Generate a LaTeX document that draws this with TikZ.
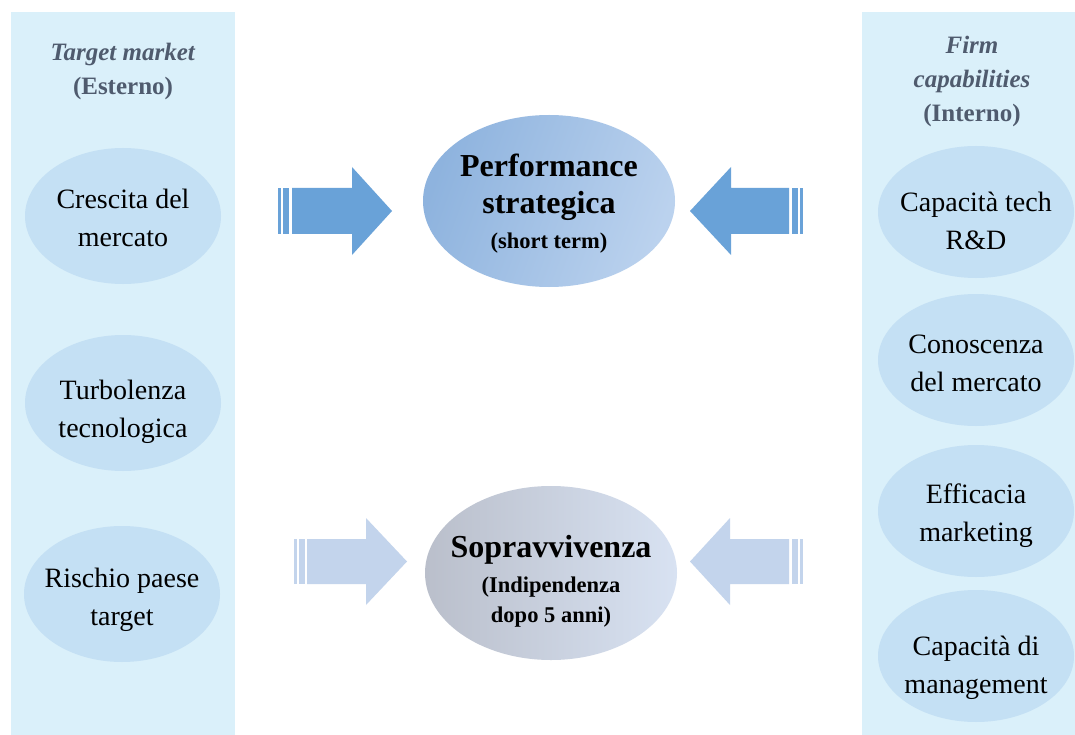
\documentclass[tikz,border=0pt]{standalone}
\usepackage{fontspec}
\setmainfont{Liberation Serif}
\usetikzlibrary{shapes.geometric}
\definecolor{panelc}{HTML}{DAF0FA}
\definecolor{ellc}{HTML}{C4E0F4}
\definecolor{arrA}{HTML}{69A2D8}
\definecolor{arrB}{HTML}{C3D4EC}
\definecolor{titc}{HTML}{4F5B6E}
\definecolor{perfL}{HTML}{8EB3DE}
\definecolor{perfR}{HTML}{BBD2EE}
\definecolor{survL}{HTML}{BABFCB}
\definecolor{survM}{HTML}{B6C4DB}
\definecolor{survR}{HTML}{D8E2F2}
% zero-size centred block so the text never changes the ellipse size
\newcommand\ctext[2][0pt]{\raisebox{#1}[0pt][0pt]{\makebox[0pt]{\begin{tabular}{@{}c@{}}#2\end{tabular}}}}
\begin{document}
\begin{tikzpicture}[x=1pt,y=-1pt,
  side/.style={ellipse, fill=ellc, minimum width=196pt, minimum height=136pt,
    inner sep=0pt, font=\fontsize{28}{38}\selectfont},
  sider/.style={side, minimum height=132pt},
  titlebox/.style={align=center, text=titc, font=\bfseries\fontsize{25}{34}\selectfont},
  bigell/.style={ellipse, minimum width=252pt, inner sep=0pt},
  arrowA/.style={fill=arrA},
  arrowB/.style={fill=arrB},
]
\useasboundingbox (0,0) rectangle (1075,735);
\fill[white] (0,0) rectangle (1075,735);
% panels
\fill[panelc] (11,12) rectangle (235,735);
\fill[panelc] (862,12) rectangle (1075,735);

% titles
\node[titlebox] (tl) at (123,71) {\textit{Target market}\\(Esterno)};
\node[titlebox] (tr) at (972,81) {\textit{Firm}\\\textit{capabilities}\\(Interno)};

% left ellipses
\node[side] (l1) at (123,216) {\ctext[-10pt]{Crescita del\\mercato}};
\node[side] (l2) at (123,403) {\ctext[-14pt]{Turbolenza\\tecnologica}};
\node[side] (l3) at (122,594) {\ctext[-11pt]{Rischio paese\\target}};

% right ellipses
\node[sider] (r1) at (976,212) {\ctext[-17pt]{Capacità tech\\R\&D}};
\node[sider] (r2) at (976,360) {\ctext[-11pt]{Conoscenza\\del mercato}};
\node[sider] (r3) at (976,511) {\ctext[-10pt]{Efficacia\\marketing}};
\node[sider] (r4) at (976,656) {\ctext[-17pt]{Capacità di\\management}};

% central ellipses
\node[bigell, minimum height=172pt, left color=perfL, right color=perfR, shading angle=70,
      font=\bfseries\fontsize{32}{37}\selectfont] (perf) at (549,201)
  {\ctext[-10pt]{Performance\\strategica\\[-2pt]\fontsize{22.5}{27}\selectfont (short term)}};
\node[bigell, minimum height=174pt, left color=survL, middle color=survM, right color=survR,
      font=\bfseries\fontsize{22.5}{30}\selectfont] (surv) at (551,573)
  {\ctext[-16pt]{\fontsize{32}{36}\selectfont Sopravvivenza\\[5pt](Indipendenza\\dopo 5 anni)}};

% top arrows
\fill[arrowA] (278,188) rectangle (281,234);
\fill[arrowA] (283,188) rectangle (289,234);
\fill[arrowA] (292,188) -- (352,188) -- (352,167) -- (392,211) -- (352,255) -- (352,234) -- (292,234) -- cycle;
\fill[arrowA] (690,211) -- (731,167) -- (731,188) -- (789,188) -- (789,234) -- (731,234) -- (731,255) -- cycle;
\fill[arrowA] (792,188) rectangle (798,234);
\fill[arrowA] (800,188) rectangle (803,234);

% bottom arrows
\fill[arrowB] (294,539) rectangle (297,584);
\fill[arrowB] (299,539) rectangle (305,584);
\fill[arrowB] (307,539) -- (366,539) -- (366,518) -- (407,561.5) -- (366,605) -- (366,584) -- (307,584) -- cycle;
\fill[arrowB] (690,561.5) -- (730,518) -- (730,539) -- (789,539) -- (789,584) -- (730,584) -- (730,605) -- cycle;
\fill[arrowB] (792,539) rectangle (798,584);
\fill[arrowB] (800,539) rectangle (803,584);
\end{tikzpicture}
\end{document}
